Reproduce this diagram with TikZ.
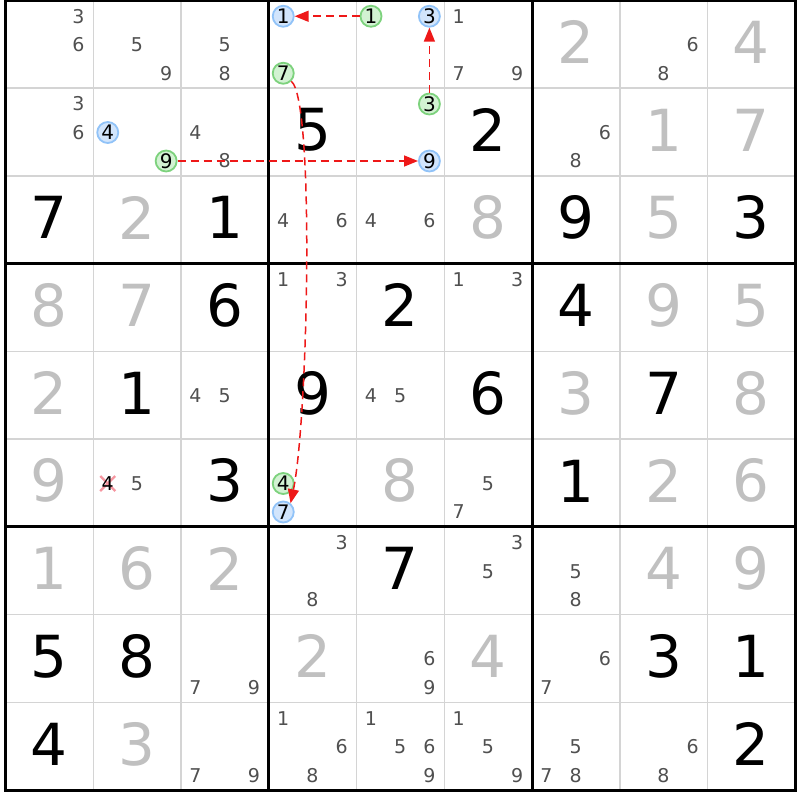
\documentclass[tikz,border=0pt]{standalone}
\usepackage{fontspec}
\setmainfont{DejaVu Sans}
\usetikzlibrary{arrows.meta,calc}
\definecolor{solved}{RGB}{192,192,192}
\definecolor{cand}{RGB}{80,80,80}
\definecolor{gridgrey}{RGB}{212,212,212}
\definecolor{bluefill}{RGB}{210,229,252}
\definecolor{blueline}{RGB}{145,195,248}
\definecolor{greenfill}{RGB}{210,242,210}
\definecolor{greenline}{RGB}{125,210,125}
\definecolor{linkred}{RGB}{238,24,24}
\definecolor{xred}{RGB}{246,150,160}
\tikzset{
  bigdigit/.style={font=\fontsize{58}{58}\selectfont, inner sep=0pt},
  givendigit/.style={bigdigit, text=black},
  solveddigit/.style={bigdigit, text=solved},
  canddigit/.style={font=\fontsize{19}{19}\selectfont, text=cand, inner sep=0pt},
  crossdigit/.style={canddigit, text=black},
  bluecirc/.style={circle, draw=blueline, fill=bluefill, line width=1.8pt,
    minimum size=21pt, inner sep=0pt, font=\fontsize{20}{20}\selectfont, text=black},
  greencirc/.style={bluecirc, draw=greenline, fill=greenfill},
  link/.style={draw=linkred, line width=1.5pt, dash pattern=on 8pt off 5pt,
    -{Triangle[length=14pt,width=11pt]}},
  gridthin/.style={draw=gridgrey, line width=1.5pt},
  gridthick/.style={draw=black, line width=3pt},
  xmark/.style={draw=xred, line width=2.4pt}
}
\newcommand\sdkpos[3]{%
  \pgfmathsetmacro\cxp{5.5+(#2-1)*87.75+14.5+mod(#3-1,3)*29.2}%
  \pgfmathsetmacro\cyp{0.25+(#1-1)*87.75+16+floor((#3-1)/3)*28.5}}
\begin{document}
\begin{tikzpicture}[x=1pt,y=-1pt]
\useasboundingbox (0,0) rectangle (800,800);
\fill[white] (0,0) rectangle (800,800);
% thin grid
\foreach \i in {1,2,4,5,7,8}{
  \draw[gridthin] ({5.5+\i*87.75},0.25) -- ({5.5+\i*87.75},790);
  \draw[gridthin] (5.5,{0.25+\i*87.75}) -- (795.25,{0.25+\i*87.75});
}
% thick grid
\foreach \i in {3,6}{
  \draw[gridthick] ({5.5+\i*87.75},0.25) -- ({5.5+\i*87.75},790);
  \draw[gridthick] (5.5,{0.25+\i*87.75}) -- (795.25,{0.25+\i*87.75});
}
\draw[gridthick] (5.5,0.25) rectangle (795.25,790);
% big digits
\foreach \r/\c/\d/\s in {
  1/7/2/solveddigit, 1/9/4/solveddigit,
  2/4/5/givendigit, 2/6/2/givendigit, 2/8/1/solveddigit, 2/9/7/solveddigit,
  3/1/7/givendigit, 3/2/2/solveddigit, 3/3/1/givendigit, 3/6/8/solveddigit,
  3/7/9/givendigit, 3/8/5/solveddigit, 3/9/3/givendigit,
  4/1/8/solveddigit, 4/2/7/solveddigit, 4/3/6/givendigit, 4/5/2/givendigit,
  4/7/4/givendigit, 4/8/9/solveddigit, 4/9/5/solveddigit,
  5/1/2/solveddigit, 5/2/1/givendigit, 5/4/9/givendigit, 5/6/6/givendigit,
  5/7/3/solveddigit, 5/8/7/givendigit, 5/9/8/solveddigit,
  6/1/9/solveddigit, 6/3/3/givendigit, 6/5/8/solveddigit, 6/7/1/givendigit,
  6/8/2/solveddigit, 6/9/6/solveddigit,
  7/1/1/solveddigit, 7/2/6/solveddigit, 7/3/2/solveddigit, 7/5/7/givendigit,
  7/8/4/solveddigit, 7/9/9/solveddigit,
  8/1/5/givendigit, 8/2/8/givendigit, 8/4/2/solveddigit, 8/6/4/solveddigit,
  8/8/3/givendigit, 8/9/1/givendigit,
  9/1/4/givendigit, 9/2/3/solveddigit, 9/9/2/givendigit}{
  \node[\s] (b-\r-\c) at ({5.5+(\c-0.5)*87.75},{0.25+(\r-0.5)*87.75-2}) {\d};
}
% plain candidates
\foreach \r/\c/\d in {
  1/1/3,1/1/6, 1/2/5,1/2/9, 1/3/5,1/3/8, 1/6/1,1/6/7,1/6/9, 1/8/6,1/8/8,
  2/1/3,2/1/6, 2/3/4,2/3/8, 2/7/6,2/7/8,
  3/4/4,3/4/6, 3/5/4,3/5/6,
  4/4/1,4/4/3, 4/6/1,4/6/3,
  5/3/4,5/3/5, 5/5/4,5/5/5,
  6/2/5, 6/6/5,6/6/7,
  7/4/3,7/4/8, 7/6/3,7/6/5, 7/7/5,7/7/8,
  8/3/7,8/3/9, 8/5/6,8/5/9, 8/7/6,8/7/7,
  9/3/7,9/3/9, 9/4/1,9/4/6,9/4/8, 9/5/1,9/5/5,9/5/6,9/5/9,
  9/6/1,9/6/5,9/6/9, 9/7/5,9/7/7,9/7/8, 9/8/6,9/8/8}{
  \sdkpos{\r}{\c}{\d}
  \node[canddigit] (k-\r-\c-\d) at (\cxp,\cyp) {\d};
}
% crossed-out candidate
\sdkpos{6}{2}{4}
\coordinate (xm) at (\cxp,\cyp);
\draw[xmark] ($(xm)+(-7.5,-7.5)$) -- ($(xm)+(7.5,7.5)$);
\draw[xmark] ($(xm)+(-7.5,7.5)$) -- ($(xm)+(7.5,-7.5)$);
\node[crossdigit] (k-6-2-4) at (xm) {4};
% circled candidates
\foreach \r/\c/\d/\s in {
  1/4/1/bluecirc, 1/5/3/bluecirc, 2/2/4/bluecirc, 2/5/9/bluecirc, 6/4/7/bluecirc,
  1/4/7/greencirc, 1/5/1/greencirc, 2/2/9/greencirc, 2/5/3/greencirc, 6/4/4/greencirc}{
  \sdkpos{\r}{\c}{\d}
  \node[\s] (k-\r-\c-\d) at (\cxp,\cyp) {\d};
}
% links
\draw[link] (k-1-5-1) -- (k-1-4-1);
\draw[link] (k-2-5-3) -- (k-1-5-3);
\draw[link] (k-2-2-9) -- (k-2-5-9);
\draw[link] (k-1-4-7.-45) .. controls (315,100) and (308,420) .. (k-6-4-7.50);
\end{tikzpicture}
\end{document}
